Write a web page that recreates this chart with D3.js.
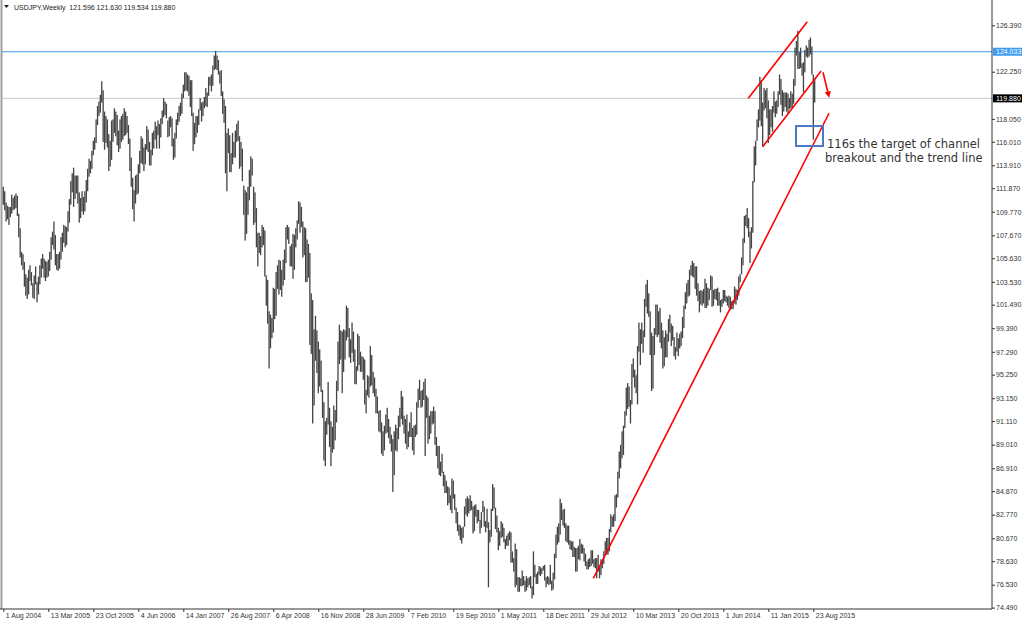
<!DOCTYPE html>
<meta charset="utf-8">
<style>
  body { margin: 0; background: #fff; }
  svg text { font-family: "Liberation Sans", Arial, sans-serif; }
</style>
<svg id="chart" width="1024" height="623"></svg>
<script src="https://cdn.jsdelivr.net/npm/d3@7"></script>
<script>

// weekly bars, first one = week of 1 Aug 2004 (one line per year)
var highs = [
  112.0,111.6,110.6,110.3,110.2, 110.2,111.3,111.0,111.2, 111.4,111.2,109.6,108.3,106.2, 106.0,105.3,104.2,103.9, 104.6,105.0,104.4,103.4,
  104.1,104.9,103.5,104.0,105.0, 105.6,106.0,105.6,105.4, 105.3,105.5,106.2,107.5, 108.0,108.9,107.7,106.0, 106.0,106.2,107.5,107.9,108.6, 108.5,108.4,109.8,110.9, 112.5,113.2,113.7,113.0,113.0, 113.0,111.5,111.0,111.6, 111.1,111.6,112.6,113.6, 114.5,114.3,115.2,116.1,116.4, 118.0,119.2,119.6,120.2, 121.4,120.6,118.7,118.3,
  118.0,116.7,116.1,117.9,118.0, 119.0,118.7,118.4,117.0, 118.0,118.3,118.5,119.0, 118.7,118.3,117.5,116.3,114.6, 112.8,111.7,113.0,113.1, 114.0,115.2,116.5,116.3, 115.5,115.8,117.4,117.1,116.0, 115.3,116.8,117.0,117.8, 117.4,117.9,117.6,118.1, 118.8,119.9,119.6,119.4,117.9, 118.2,118.3,118.1,116.3, 116.8,118.0,118.6,119.2,119.5,
  120.3,121.1,122.2,122.2, 122.0,121.9,121.5,121.5, 118.6,117.7,118.3,118.3, 118.9,119.9,119.5,119.6,120.0, 120.8,120.4,121.8,121.8, 122.0,122.8,123.7,124.1, 123.7,123.3,122.3,122.4,120.5, 119.8,119.2,116.8,117.2, 116.6,115.0,116.8,116.0,117.0, 117.6,117.9,116.5,116.0, 115.4,112.1,111.7,111.5, 112.0,113.5,114.7,114.5,112.0,
  111.5,110.1,107.9,107.9, 107.6,108.6,108.4,108.1, 104.1,103.7,100.9,100.6,100.3, 103.0,102.9,104.4,105.0, 105.5,105.4,104.6,105.5, 106.4,108.4,108.6,108.4,106.7, 106.9,107.8,107.7,108.3, 109.0,110.7,110.6,110.2,108.9, 108.4,108.3,107.3,106.9, 106.1,102.5,101.9,99.3, 100.5,99.2,98.2,97.5,96.5, 93.9,92.8,91.1,91.4,
  94.6,92.3,91.1,90.6, 92.5,92.1,94.7,98.2, 99.7,99.2,99.1,99.3,99.2, 101.4,101.2,99.4,98.4, 99.9,99.1,97.5,96.0,98.9, 98.7,97.3,96.9,96.8, 96.6,93.9,95.2,95.1, 97.8,97.0,95.5,95.0,94.0, 93.3,92.0,92.1,91.0, 90.2,90.7,91.7,92.3, 91.3,90.6,89.9,89.5,90.2, 90.8,90.5,91.6,92.3,
  93.8,93.3,91.6,91.3,91.7, 90.2,91.0,91.9,90.5, 90.7,90.8,92.8,94.0, 94.8,93.8,93.9,94.6, 94.9,93.4,93.2,91.6,92.0, 92.0,92.4,92.0,89.7, 88.9,88.9,87.5,88.2, 86.6,86.3,85.8,85.3,85.2, 84.5,86.0,85.8,84.6, 83.4,83.0,81.9,81.8,81.6, 81.7,83.5,84.2,84.4, 84.2,84.5,84.0,83.5,
  83.6,83.7,83.2,83.2,82.3, 83.0,84.0,83.5,82.2, 83.3,82.1,81.4,83.3, 85.5,85.2,83.4,82.7, 81.6,81.3,82.2,82.0,81.6, 80.6,80.9,81.1, 81.3,81.2,79.5,78.9,80.2, 79.7,77.2,77.2,77.1, 77.8,77.3,76.9,77.3, 77.1,77.2,77.3,76.4,79.5, 78.3,77.5,77.7,78.2, 78.1,78.0,78.2,78.3,
  77.2,77.3,77.2,78.3,76.9, 77.6,79.3,81.0,81.7, 82.0,84.2,83.8,83.2, 83.3,82.0,81.8,81.8,80.5, 80.4,80.4,79.9,79.8, 79.8,80.0,80.6,80.2, 80.1,79.8,79.3,78.6,78.8, 78.9,79.6,79.6,78.8, 78.9,78.9,79.2,78.2,78.8, 78.7,79.5,80.4,80.7, 80.7,81.5,82.8,82.6, 82.8,84.5,84.6,86.6,88.4,
  89.0,90.2,90.7,92.0, 94.1,94.5,94.2,93.0, 96.2,96.7,95.7,95.2,97.8, 99.9,99.3,99.9,99.2, 102.0,103.3,103.7,102.5, 100.9,99.0,98.7,99.4,101.5, 101.5,100.9,101.2,99.9, 99.2,98.6,99.2,98.9, 100.2,100.6,99.8,99.6,98.6, 97.7,99.0,98.5,98.9, 99.1,100.4,101.4,102.6, 103.4,103.7,104.6,105.0,105.4,
  105.2,104.9,104.9,103.4, 102.7,102.8,102.7,102.9, 103.8,103.4,103.0,102.9,104.1, 104.0,102.8,102.9,102.9, 103.0,102.6,101.9,102.0, 102.8,102.8,102.3,102.2,102.3, 102.2,101.8,101.9,103.1, 102.9,102.8,104.0,104.2,105.7, 107.4,109.4,109.5,110.1, 109.2,108.0,108.4,112.5, 115.6,116.1,118.0,118.9,121.8, 121.5,119.5,120.8,120.6,
  120.8,119.7,118.9,118.9, 119.2,120.5,119.6,119.7, 120.5,122.0,121.6,120.6,120.4, 120.4,120.4,120.3,119.9, 120.5,120.3,121.6,124.4,125.0, 125.9,124.0,124.4,123.0, 123.1,124.2,124.6,124.4, 125.1,125.3,124.5,122.0,121.6
];
var lows = [
  110.4,109.9,108.9,109.1,108.6, 109.3,109.6,109.9,110.0, 110.1,109.4,107.5,105.7,105.0, 104.6,103.1,102.3,102.0, 102.4,103.6,103.2,102.1,
  102.0,103.3,101.7,102.4,103.3, 103.9,104.7,103.9,103.6, 103.9,104.0,104.5,105.5, 106.8,106.4,105.0,104.6, 104.5,104.7,105.5,106.2,107.0, 106.6,106.8,108.0,108.8, 110.4,111.5,110.2,110.9,111.4, 110.5,108.8,109.2,109.8, 109.5,109.8,110.6,111.6, 112.9,113.2,113.6,114.8,115.3, 115.9,117.5,118.3,118.6, 119.5,116.0,115.3,115.9,
  115.5,113.4,113.8,114.4,116.0, 116.8,116.5,115.7,115.1, 115.4,116.0,116.2,116.5, 116.6,116.8,115.8,113.4,112.0, 110.0,108.9,110.5,111.3, 111.4,113.2,114.1,114.0, 113.4,114.0,115.3,115.1,113.9, 113.9,114.8,115.4,116.2, 115.4,116.6,115.4,116.4, 117.6,118.2,118.4,118.1,116.4, 116.5,117.3,115.6,114.4, 114.6,116.3,117.5,117.8,118.3,
  118.5,119.9,120.5,120.6, 120.5,120.1,119.1,118.3, 115.2,115.8,116.4,116.8, 117.5,118.8,117.8,118.3,119.0, 119.2,119.1,120.1,121.0, 120.5,121.0,122.4,122.5, 122.4,122.0,121.2,120.1,118.5, 117.7,113.2,111.6,115.0, 113.3,113.3,114.0,114.6,114.6, 116.0,116.1,113.6,113.8, 112.5,109.5,107.2,107.8, 109.5,110.8,112.0,113.0,108.6,
  108.8,106.6,104.9,106.1, 105.9,106.6,106.8,104.0, 101.4,99.8,95.8,97.6,98.5, 99.0,100.2,100.5,102.9, 102.4,102.8,102.2,103.2, 103.7,105.2,107.3,106.9,104.9, 104.9,103.8,104.6,106.6, 107.3,108.7,107.9,108.4,105.7, 105.9,103.5,103.5,103.9, 97.9,97.1,90.9,92.5, 96.5,95.4,93.6,94.2,93.7, 91.4,87.6,87.1,89.9,
  90.8,88.8,87.1,88.3, 88.6,89.4,91.0,93.8, 96.2,96.6,93.6,95.5,96.6, 98.3,98.6,96.8,96.3, 97.2,96.4,94.4,94.4,95.6, 96.1,95.5,95.5,94.8, 92.6,91.8,93.4,93.2, 94.2,94.3,93.6,93.3,91.8, 91.8,90.2,90.1,88.2, 88.0,88.5,90.0,90.1, 89.6,89.1,88.4,84.8,86.3, 88.5,88.4,89.5,90.6,
  91.3,90.8,90.0,89.1,88.6, 88.8,89.7,89.7,88.5, 88.1,89.7,89.9,92.3, 93.0,92.3,92.4,93.0, 88.0,91.4,89.1,89.5,90.0, 90.8,90.9,89.0,88.0, 86.9,86.3,86.2,86.5, 85.3,84.7,84.7,83.6,83.8, 83.2,82.9,84.2,83.2, 82.0,81.3,80.9,80.5,80.2, 80.7,81.7,82.8,82.6, 82.9,83.1,83.2,81.1,
  81.3,82.6,82.0,82.2,81.1, 81.6,83.0,81.7,81.2, 81.6,76.3,80.3,80.8, 83.1,83.3,81.5,81.2, 79.6,80.0,80.7,80.8,80.3, 79.7,80.0,80.0, 80.5,78.5,78.5,77.7,76.3, 76.5,75.9,75.9,76.4, 76.4,76.5,75.9,76.0, 76.3,76.5,76.2,75.3,75.6, 77.2,76.6,76.6,77.4, 77.3,77.5,77.8,76.9,
  76.3,76.6,76.5,76.6,76.0, 76.1,77.0,78.9,80.1, 80.3,81.0,82.3,81.8, 81.6,80.4,80.3,80.1,79.7, 79.6,79.0,79.0,77.7, 77.7,78.8,78.7,79.3, 79.3,78.6,78.2,77.9,77.9, 78.1,78.2,78.4,78.1, 78.0,77.1,77.7,77.1,77.4, 78.0,78.4,79.3,79.2, 79.2,79.5,81.2,81.7, 81.7,82.2,83.4,84.3,86.0,
  86.9,87.8,88.1,90.5, 91.6,92.2,92.4,90.9, 92.6,95.0,94.1,93.6,92.6, 97.3,96.1,98.0,97.2, 98.6,101.3,100.7,100.4, 97.0,93.8,94.0,97.0,98.8, 98.6,98.8,98.1,97.6, 95.8,96.0,96.8,96.8, 98.2,99.0,97.8,98.3,96.9, 96.6,97.3,96.9,97.6, 97.8,98.5,99.4,101.1, 101.6,102.2,102.3,104.1,104.0,
  103.9,102.9,102.3,101.8, 100.8,101.5,101.4,101.6, 101.2,101.2,101.4,101.9,102.8, 101.3,101.4,102.0,101.9, 101.4,101.4,100.8,101.3, 101.6,101.8,101.7,101.4,101.2, 101.0,101.1,101.1,101.6, 101.5,101.9,102.3,103.5,104.2, 105.0,107.0,108.5,108.3, 107.5,105.2,106.5,107.9, 112.4,113.9,116.1,117.3,117.9, 117.4,115.6,118.8,119.0,
  118.1,115.9,116.6,117.3, 116.9,118.6,118.2,118.5, 119.1,120.2,119.3,118.3,118.7, 119.1,118.7,118.5,118.9, 119.0,119.0,119.4,121.0,123.7, 122.5,122.5,122.6,121.9, 120.4,122.2,123.6,123.5, 123.6,123.8,122.0,116.2,119.5
];

// time labels, one every 32 bars
var dateLabels = ["1 Aug 2004", "13 Mar 2005", "23 Oct 2005", "4 Jun 2006", "14 Jan 2007", "26 Aug 2007",
  "6 Apr 2008", "16 Nov 2008", "28 Jun 2009", "7 Feb 2010", "19 Sep 2010", "1 May 2011", "18 Dec 2011",
  "29 Jul 2012", "10 Mar 2013", "20 Oct 2013", "1 Jun 2014", "11 Jan 2015", "23 Aug 2015"];
var priceTicks = [126.390, 122.250, 118.050, 116.010, 113.910, 111.870, 109.770, 107.670,
  105.630, 103.530, 101.490, 99.390, 97.290, 95.250, 93.150, 91.110, 89.010, 86.910, 84.870, 82.770,
  80.670, 78.630, 76.530, 74.490];

var lastBar = [121.596, 121.630, 119.534, 119.880];
var blueLevel = 124.033;
var bidLevel = 119.880;

// drawn objects in (bar index, price)
var trendLine = [[419.6, 77.10], [587.2, 118.55]];
var channelTop = [[529.8, 119.88], [571.7, 126.71]];
var channelBottom = [[540.0, 115.57], [581.5, 122.32]];
var arrowLine = [[582.9, 122.20], [586.8, 120.20]];
var targetBox = [[563.7, 117.41], [582.9, 115.63]];
var noteLines = ["116s the target of channel", "breakout and the trend line"];

var svg = d3.select("#chart");

var x = d3.scaleLinear().domain([0, 576]).range([3.3, 813.3]);
var y = d3.scaleLinear().domain([74.49, 126.39]).range([607.6, 25.3]);

var axisX = 992, axisY = 609;

// frame
svg.append("line").attr("x1", 1.5).attr("x2", 1.5).attr("y1", 0).attr("y2", axisY)
  .style("stroke", "#a0a0a0").style("stroke-width", 2);

// level lines
svg.append("line").attr("x1", 2).attr("x2", axisX).attr("y1", y(bidLevel)).attr("y2", y(bidLevel))
  .style("stroke", "#c8c8c8").style("stroke-width", 1);
svg.append("line").attr("x1", 2).attr("x2", axisX).attr("y1", y(blueLevel)).attr("y2", y(blueLevel))
  .style("stroke", "#3d9bf0").style("stroke-width", 1);

// bars
svg.append("g")
  .selectAll("rect")
  .data(highs)
  .enter()
  .append("rect")
    .attr("x", function(d, i) { return x(i) - 0.65; })
    .attr("width", 1.3)
    .attr("y", function(d) { return y(d); })
    .attr("height", function(d, i) { return y(lows[i]) - y(d); })
    .style("fill", "#444");

// axes
var yAxis = d3.axisRight(y).tickValues(priceTicks).tickSize(3).tickFormat(d3.format(".3f"));
var gy = svg.append("g").attr("transform", "translate(" + axisX + ",0)").call(yAxis);
gy.select(".domain").remove();
gy.selectAll("text").attr("x", 4).style("font-size", "7px").style("fill", "#333");
gy.selectAll("line").style("stroke", "#333");

var xAxis = d3.axisBottom(x).tickValues(d3.range(0, 577, 32)).tickSize(3)
  .tickFormat(function(d, i) { return dateLabels[i]; });
var gx = svg.append("g").attr("transform", "translate(0," + axisY + ")").call(xAxis);
gx.select(".domain").remove();
gx.selectAll("text").attr("text-anchor", "start").attr("x", 2).attr("y", 4)
  .style("font-size", "7px").style("fill", "#333");
gx.selectAll("line").style("stroke", "#333");

svg.append("line").attr("x1", axisX).attr("x2", axisX).attr("y1", 0).attr("y2", axisY)
  .style("stroke", "#333");
svg.append("line").attr("x1", 0).attr("x2", axisX).attr("y1", axisY).attr("y2", axisY)
  .style("stroke", "#333");

// price boxes on the axis
function priceBox(v, fill) {
  svg.append("rect").attr("x", axisX + 1).attr("y", y(v) - 4).attr("width", 29).attr("height", 8)
    .style("fill", fill);
  svg.append("text").attr("x", axisX + 4).attr("y", y(v) + 2.5).text(d3.format(".3f")(v))
    .style("font-size", "7px").style("fill", "#fff");
}
priceBox(blueLevel, "#3d9bf0");
priceBox(bidLevel, "#000");

// header
svg.append("path").attr("d", "M4,5 L9,5 L6.5,8 Z").style("fill", "#222");
svg.append("text").attr("x", 14).attr("y", 9.5)
  .text("USDJPY,Weekly  " + lastBar.map(d3.format(".3f")).join(" "))
  .style("font-size", "7px").style("fill", "#222").style("white-space", "pre");

// red annotation lines
var line = d3.line().x(function(d) { return x(d[0]); }).y(function(d) { return y(d[1]); });
[trendLine, channelTop, channelBottom].forEach(function(seg) {
  svg.append("path").attr("d", line(seg)).style("stroke", "#ff0000")
    .style("stroke-width", 1.6).style("fill", "none");
});

svg.append("defs").append("marker")
  .attr("id", "head").attr("viewBox", "0 0 10 10").attr("refX", 5).attr("refY", 5)
  .attr("markerWidth", 4).attr("markerHeight", 4).attr("orient", "auto")
  .append("path").attr("d", "M0,0 L10,5 L0,10 Z").style("fill", "#ff0000");
svg.append("path").attr("d", line(arrowLine)).style("stroke", "#ff0000")
  .style("stroke-width", 1.6).style("fill", "none").attr("marker-end", "url(#head)");

// target box and note
svg.append("rect")
  .attr("x", x(targetBox[0][0])).attr("y", y(targetBox[0][1]))
  .attr("width", x(targetBox[1][0]) - x(targetBox[0][0]))
  .attr("height", y(targetBox[1][1]) - y(targetBox[0][1]))
  .style("fill", "none").style("stroke", "#4a78c4").style("stroke-width", 2);

svg.selectAll(".note")
  .data(noteLines)
  .enter()
  .append("text")
    .attr("class", "note")
    .attr("x", function(d, i) { return x(targetBox[1][0]) + 4 - i * 2; })
    .attr("y", function(d, i) { return y(targetBox[1][1]) + 2 + i * 13.5; })
    .text(function(d) { return d; })
    .style("font-family", "'DejaVu Sans', Verdana, sans-serif")
    .style("font-size", "11.5px").style("fill", "#333");

</script>
